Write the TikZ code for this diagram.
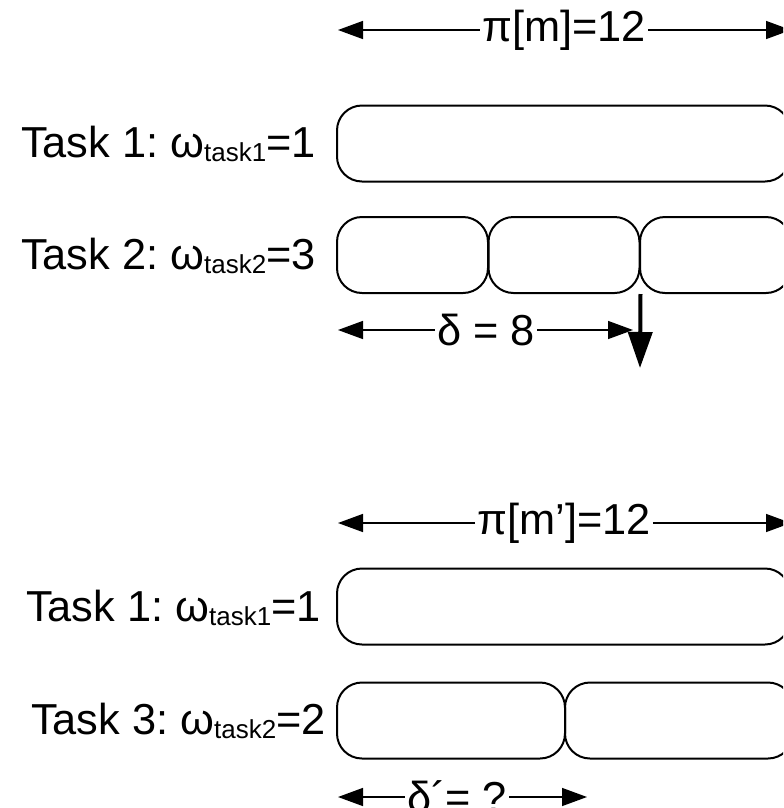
\documentclass[tikz,border=0pt]{standalone}
\usepackage{fontspec}
\setmainfont{Liberation Sans}
\usetikzlibrary{arrows.meta}
\frenchspacing
\newcommand\tsub[1]{\raisebox{-3pt}{\fontsize{19.5}{20}\selectfont #1}}
\begin{document}
\begin{tikzpicture}[x=0.75pt,y=-0.75pt,
  txt/.style={font=\fontsize{32.5}{36}\selectfont, inner sep=0pt},
  slot/.style={draw, line width=1.5pt, rounded corners=18.75pt, minimum height=57pt, inner sep=0pt},
  dimline/.style={line width=1.1pt, -{Triangle[length=18.75pt,width=13.5pt]}},
  dropline/.style={line width=3pt, -{Triangle[length=27pt,width=18pt]}}
]
\useasboundingbox (0,0) rectangle (783,808);
\clip (0,0) rectangle (783,808);

% ---------- upper scenario ----------
\node[txt] (pim) at (564,30) {π[m]=12};
\coordinate (pimL) at (338,30);
\coordinate (pimR) at (791,30);
\draw[dimline] ([xshift=-1.5pt]pim.west) -- (pimL);
\draw[dimline] ([xshift=1.5pt]pim.east) -- (pimR);

\node[slot, minimum width=339.75pt] (t1) at (563.5,143.5) {};
\node[txt, anchor=base east] (l1) at (316,157) {Task 1: ω\tsub{task1}=1};

\node[slot, minimum width=113.25pt] (t2a) at (412.5,255) {};
\node[slot, minimum width=113.25pt] (t2b) at (564,255) {};
\node[slot, minimum width=113.25pt] (t2c) at (715.5,255) {};
\node[txt, anchor=base east] (l2) at (316,269) {Task 2: ω\tsub{task2}=3};

\node[txt] (del) at (486,330) {δ = 8};
\coordinate (delL) at (338,330);
\coordinate (delR) at (633,330);
\draw[dimline] ([xshift=-1.5pt]del.west) -- (delL);
\draw[dimline] ([xshift=1.5pt]del.east) -- (delR);

\coordinate (dropEnd) at (640,368);
\draw[dropline] (t2b.south east) -- (dropEnd);

% ---------- lower scenario ----------
\node[txt] (pimp) at (564,523) {π[m’]=12};
\coordinate (pimpL) at (338,523);
\coordinate (pimpR) at (791,523);
\draw[dimline] ([xshift=-1.5pt]pimp.west) -- (pimpL);
\draw[dimline] ([xshift=1.5pt]pimp.east) -- (pimpR);

\node[slot, minimum width=339.75pt] (u1) at (563.5,606.5) {};
\node[txt, anchor=base east] (m1) at (321,621) {Task 1: ω\tsub{task1}=1};

\node[slot, minimum width=171pt] (u2a) at (451,720.5) {};
\node[slot, minimum width=171pt] (u2b) at (679,720.5) {};
\node[txt, anchor=base east] (m2) at (326,734) {Task 3: ω\tsub{task2}=2};

\node[txt] (delp) at (457,797) {δ´= ?};
\coordinate (delpL) at (338,797);
\coordinate (delpR) at (587,797);
\draw[dimline] ([xshift=-1.5pt]delp.west) -- (delpL);
\draw[dimline] ([xshift=1.5pt]delp.east) -- (delpR);
\end{tikzpicture}
\end{document}
